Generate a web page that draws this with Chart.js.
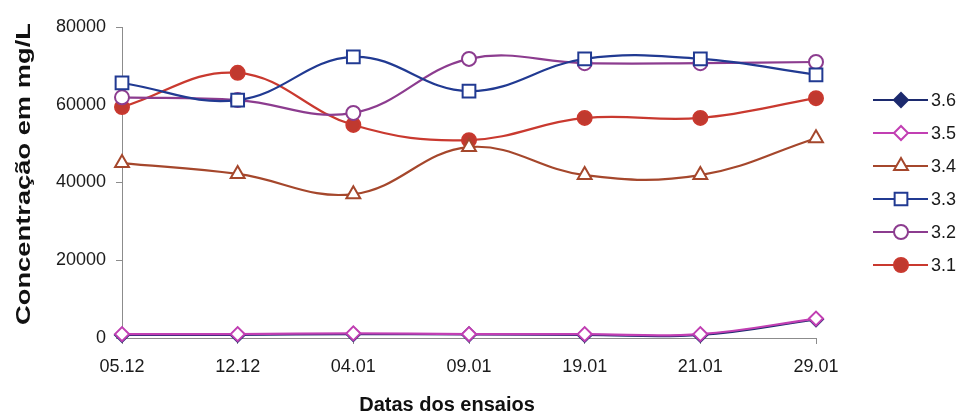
<!DOCTYPE html>
<html>
<head>
<meta charset="utf-8">
<script src="https://cdn.jsdelivr.net/npm/chart.js@4/dist/chart.umd.min.js"></script>
<style>
  html, body { margin: 0; padding: 0; background: #ffffff; }
  #wrap { width: 965px; height: 420px; }
</style>
</head>
<body>
<div id="wrap"><canvas id="c" width="965" height="420"></canvas></div>
<script>
// Test dates (x categories)
const dates = ['05.12', '12.12', '04.01', '09.01', '19.01', '21.01', '29.01'];

// Concentration per sample series, mg/L
const s36 = [800, 800, 1000, 900, 800, 800, 4800];
const s35 = [1000, 1000, 1200, 1000, 1000, 1000, 5000];
const s34 = [45000, 42200, 37000, 49100, 41900, 41900, 51400];
const s33 = [65600, 61200, 72300, 63500, 71800, 71800, 67700];
const s32 = [61900, 61200, 57900, 71800, 70700, 70700, 71000];
const s31 = [59400, 68200, 54800, 50900, 56600, 56600, 61700];

// y axis ticks
const yTicks = [0, 20000, 40000, 60000, 80000];

const FONT = "'Liberation Sans', Arial, sans-serif";
const X_TITLE = 'Datas dos ensaios';
const Y_TITLE = 'Concentração em mg/L';

function series(label, data, color, style, fill, radius, order) {
  return {
    label: label,
    data: data,
    borderColor: color,
    backgroundColor: fill,
    borderWidth: 2.2,
    pointStyle: style,
    pointRadius: radius,
    pointHoverRadius: radius,
    pointBorderColor: color,
    pointBackgroundColor: fill,
    pointBorderWidth: 2,
    tension: 0.4,
    clip: false,
    order: order
  };
}

// Legend drawn as line + marker samples to the right of the plot,
// plus both axis titles (the vertical one is a stretched bold label)
const sideLegend = {
  id: 'sideLegend',
  afterDraw(chart) {
    const ctx = chart.ctx;
    const sets = chart.data.datasets;
    const gap = 33;
    const cy = (chart.chartArea.top + chart.chartArea.bottom) / 2;
    const y0 = cy - gap * (sets.length - 1) / 2;
    const x0 = 873, x1 = 928, xm = 901;
    ctx.save();
    sets.forEach((ds, i) => {
      const y = y0 + i * gap;
      ctx.strokeStyle = ds.borderColor;
      ctx.lineWidth = ds.borderWidth;
      ctx.beginPath();
      ctx.moveTo(x0, y);
      ctx.lineTo(x1, y);
      ctx.stroke();
      ctx.fillStyle = ds.pointBackgroundColor;
      ctx.strokeStyle = ds.pointBorderColor;
      ctx.lineWidth = ds.pointBorderWidth;
      Chart.helpers.drawPoint(ctx, {
        pointStyle: ds.pointStyle,
        radius: ds.pointRadius,
        rotation: 0,
        borderWidth: ds.pointBorderWidth
      }, xm, y);
      ctx.fillStyle = '#1a1a1a';
      ctx.font = '18px ' + FONT;
      ctx.textAlign = 'left';
      ctx.textBaseline = 'middle';
      ctx.fillText(ds.label, x1 + 3, y + 1);
    });

    ctx.fillStyle = '#111111';
    ctx.font = 'bold 20px ' + FONT;
    ctx.textAlign = 'center';
    ctx.textBaseline = 'middle';
    ctx.fillText(X_TITLE, 447, 405);

    ctx.translate(24, 174);
    ctx.rotate(-Math.PI / 2);
    ctx.scale(1.3, 1);
    ctx.font = 'bold 21px ' + FONT;
    ctx.fillText(Y_TITLE, 0, 0);
    ctx.restore();
  }
};

new Chart(document.getElementById('c'), {
  type: 'line',
  data: {
    labels: dates,
    datasets: [
      series('3.6', s36, '#1c2a6e', 'rectRot', '#1c2a6e', 7, 1),
      series('3.5', s35, '#c23fb3', 'rectRot', '#ffffff', 7, 0),
      series('3.4', s34, '#a5472c', 'triangle', '#ffffff', 8, 0),
      series('3.3', s33, '#213a92', 'rect', '#ffffff', 9, 0),
      series('3.2', s32, '#8c3c8f', 'circle', '#ffffff', 7, 0),
      series('3.1', s31, '#c9392f', 'circle', '#c0392f', 7, 0)
    ]
  },
  options: {
    responsive: false,
    animation: false,
    layout: { padding: { top: 27, right: 149, left: 0, bottom: 0 } },
    plugins: {
      legend: { display: false },
      tooltip: { enabled: false }
    },
    scales: {
      x: {
        type: 'category',
        offset: false,
        afterFit(scale) { scale.height = 82; },
        border: { display: true, color: '#8c8c8c', width: 1 },
        grid: { display: true, drawOnChartArea: false, drawTicks: true, tickLength: 6, color: '#8c8c8c' },
        ticks: { color: '#1a1a1a', font: { family: FONT, size: 18 }, padding: 12, maxRotation: 0, autoSkip: false }
      },
      y: {
        min: 0,
        max: 80000,
        afterFit(scale) { scale.width = 122; },
        afterBuildTicks(scale) { scale.ticks = yTicks.map(v => ({ value: v })); },
        border: { display: true, color: '#8c8c8c', width: 1 },
        grid: { display: true, drawOnChartArea: false, drawTicks: true, tickLength: 6, color: '#8c8c8c' },
        ticks: {
          color: '#1a1a1a',
          font: { family: FONT, size: 18 },
          padding: 10,
          callback: v => String(v)
        }
      }
    }
  },
  plugins: [sideLegend]
});
</script>
</body>
</html>
